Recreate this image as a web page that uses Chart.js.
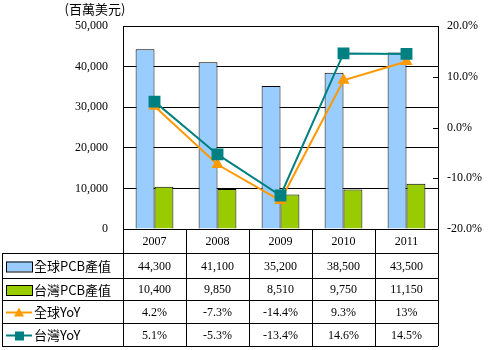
<!DOCTYPE html>
<html>
<head>
<meta charset="utf-8">
<script src="https://cdn.jsdelivr.net/npm/chart.js@4/dist/chart.umd.min.js"></script>
<style>
body { margin: 0; background: #fff; }
#wrap { width: 491px; height: 350px; }
</style>
</head>
<body>
<div id="wrap"><canvas id="myChart"></canvas></div>
<script>
// data
const years = ['2007', '2008', '2009', '2010', '2011'];
const globalPcb = [44300, 41100, 35200, 38500, 43500];
const taiwanPcb = [10400, 9850, 8510, 9750, 11150];
const globalYoY = [4.2, -7.3, -14.4, 9.3, 13];
const taiwanYoY = [5.1, -5.3, -13.4, 14.6, 14.5];
const seriesNames = ['全球PCB產值', '台灣PCB產值', '全球YoY', '台灣YoY'];
const unitLabel = '(百萬美元)';

const numFont = '12px "Liberation Serif", serif';
const cjkFont = '13px "Noto Sans CJK TC", sans-serif';

function fmtNum(v) { return v.toLocaleString('en-US'); }
function fmtPct(v) { return v + '%'; }

// draws the data table under the plot, the unit label and the inner ticks of the right axis
const tablePlugin = {
    id: 'dataTable',
    afterDraw: function (chart) {
        const ctx = chart.ctx;
        const area = chart.chartArea;
        const x = chart.scales.x;
        const y1 = chart.scales.y1;
        const colW = (x.right - x.left) / years.length;
        const rowH = [24, 25, 22, 23, 23];
        const rowTop = [area.bottom];
        for (let i = 0; i < rowH.length; i++) rowTop.push(rowTop[i] + rowH[i]);
        const leftEdge = 2;

        ctx.save();
        ctx.strokeStyle = '#000';
        ctx.lineWidth = 1;

        // right axis ticks, pointing inward
        y1.ticks.forEach(function (t) {
            const ty = Math.round(y1.getPixelForValue(t.value)) + 0.5;
            ctx.beginPath();
            ctx.moveTo(area.right - 5, ty);
            ctx.lineTo(area.right, ty);
            ctx.stroke();
        });

        // horizontal lines
        for (let r = 1; r < rowTop.length; r++) {
            ctx.beginPath();
            ctx.moveTo(leftEdge, rowTop[r] + 0.5);
            ctx.lineTo(area.right, rowTop[r] + 0.5);
            ctx.stroke();
        }
        // vertical lines
        for (let c = 0; c <= years.length; c++) {
            const cx = Math.round(x.left + c * colW) + 0.5;
            ctx.beginPath();
            ctx.moveTo(cx, rowTop[0]);
            ctx.lineTo(cx, rowTop[rowTop.length - 1]);
            ctx.stroke();
        }
        ctx.beginPath();
        ctx.moveTo(leftEdge + 0.5, rowTop[1]);
        ctx.lineTo(leftEdge + 0.5, rowTop[rowTop.length - 1]);
        ctx.stroke();

        // year header
        ctx.fillStyle = '#000';
        ctx.textAlign = 'center';
        ctx.textBaseline = 'middle';
        ctx.font = numFont;
        for (let i = 0; i < years.length; i++) {
            ctx.fillText(years[i], x.getPixelForValue(i), rowTop[0] + rowH[0] / 2 + 1);
        }

        const rows = [
            globalPcb.map(fmtNum),
            taiwanPcb.map(fmtNum),
            globalYoY.map(fmtPct),
            taiwanYoY.map(fmtPct)
        ];
        for (let r = 0; r < rows.length; r++) {
            const cy = rowTop[r + 1] + rowH[r + 1] / 2 + 1;
            ctx.font = numFont;
            ctx.textAlign = 'center';
            for (let i = 0; i < years.length; i++) {
                ctx.fillText(rows[r][i], x.getPixelForValue(i), cy);
            }
            // legend keys
            const ds = chart.data.datasets[r];
            if (r < 2) {
                ctx.fillStyle = ds.backgroundColor;
                ctx.fillRect(6, cy - 5, 26, 10);
                ctx.strokeRect(6.5, cy - 4.5, 26, 10);
            } else {
                ctx.strokeStyle = ds.borderColor;
                ctx.lineWidth = 2;
                ctx.beginPath();
                ctx.moveTo(6, cy);
                ctx.lineTo(32, cy);
                ctx.stroke();
                ctx.fillStyle = ds.borderColor;
                ctx.beginPath();
                if (r === 2) {
                    ctx.moveTo(19, cy - 5);
                    ctx.lineTo(24, cy + 4);
                    ctx.lineTo(14, cy + 4);
                    ctx.closePath();
                    ctx.fill();
                } else {
                    ctx.fillRect(15, cy - 4, 9, 9);
                }
                ctx.strokeStyle = '#000';
                ctx.lineWidth = 1;
            }
            ctx.fillStyle = '#000';
            ctx.font = cjkFont;
            ctx.textAlign = 'left';
            ctx.fillText(seriesNames[r], 34, cy);
        }

        // unit label
        ctx.font = cjkFont;
        ctx.textAlign = 'center';
        ctx.fillText(unitLabel, 95, 9);
        ctx.restore();
    }
};

const ctx = document.getElementById('myChart');
const myChart = new Chart(ctx, {
    type: 'bar',
    data: {
        labels: years,
        datasets: [{
            label: seriesNames[0],
            data: globalPcb,
            backgroundColor: '#99ccff',
            borderColor: '#000',
            borderWidth: 1,
            yAxisID: 'y',
            order: 3,
            categoryPercentage: 0.6,
            barPercentage: 1
        }, {
            label: seriesNames[1],
            data: taiwanPcb,
            backgroundColor: '#99cc00',
            borderColor: '#000',
            borderWidth: 1,
            yAxisID: 'y',
            order: 4,
            categoryPercentage: 0.6,
            barPercentage: 1
        }, {
            type: 'line',
            label: seriesNames[2],
            data: globalYoY,
            borderColor: '#ff9900',
            backgroundColor: '#ff9900',
            borderWidth: 2,
            pointStyle: 'triangle',
            pointRadius: 5,
            yAxisID: 'y1',
            order: 2
        }, {
            type: 'line',
            label: seriesNames[3],
            data: taiwanYoY,
            borderColor: '#008080',
            backgroundColor: '#008080',
            borderWidth: 2,
            pointStyle: 'rect',
            pointRadius: 7,
            yAxisID: 'y1',
            order: 1
        }]
    },
    options: {
        responsive: true,
        maintainAspectRatio: false,
        animation: false,
        layout: {
            padding: { left: 0, right: 0, top: 26, bottom: 121 }
        },
        plugins: {
            legend: { display: false },
            tooltip: { enabled: false }
        },
        scales: {
            x: {
                display: false,
                offset: true
            },
            y: {
                position: 'left',
                min: 0,
                max: 50000,
                afterFit: function (s) { s.width = 123; },
                ticks: {
                    stepSize: 10000,
                    color: '#000',
                    padding: 15,
                    font: { family: '"Liberation Serif", serif', size: 12 },
                    callback: function (v) { return fmtNum(v); }
                },
                grid: { color: '#000', drawTicks: false },
                border: { color: '#000' }
            },
            y1: {
                position: 'right',
                min: -20,
                max: 20,
                afterFit: function (s) { s.width = 53; },
                ticks: {
                    stepSize: 10,
                    color: '#000',
                    padding: 9,
                    font: { family: '"Liberation Serif", serif', size: 12 },
                    callback: function (v) { return v.toFixed(1) + '%'; }
                },
                grid: { drawOnChartArea: false, drawTicks: false },
                border: { color: '#000' }
            }
        }
    },
    plugins: [tablePlugin]
});
</script>
</body>
</html>
